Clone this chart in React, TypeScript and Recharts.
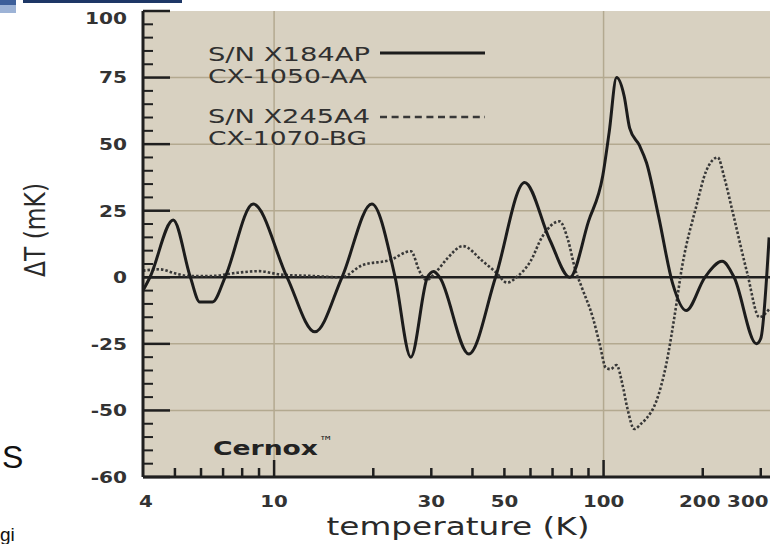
import React from 'react'
import { LineChart, Line, XAxis, YAxis, CartesianGrid, ReferenceLine } from 'recharts'

// S/N X184AP (CX-1050-AA), solid
const solidT = [4, 4.2, 4.94, 5.57, 5.95, 6.5, 7.1, 8.64, 10.95, 13.3, 16.07, 19.8, 23.3, 26, 29.2, 30.5, 31.8, 39, 47, 57.6, 68.7, 79, 90, 99.4, 104, 109.5, 115.5, 120, 128.5, 135, 147, 162, 178, 203, 229, 249, 291, 300, 318]
const solidV = [-5, 0, 21.5, 0, -9.3, -9.3, 0, 27.5, 0, -20.5, 0, 27.5, 0, -30, 0, 2.2, 0, -28.8, 0, 35.6, 14, 0, 21, 38, 54.5, 75, 68, 56, 49.5, 43, 22.7, -2.3, -12.5, 0, 6, 0, -25, -23, 15]

// S/N X245A4 (CX-1070-BG), dotted
const dottedT = [4, 4.5, 5, 5.5, 6.5, 7.5, 9, 10.5, 13, 16, 18.5, 22.5, 26, 27.7, 29, 31, 33.5, 37.4, 43, 47, 51, 55, 60, 65, 73.5, 78, 82, 86, 92.7, 97.3, 101.6, 105, 109.5, 114, 118, 124, 130, 135, 144.5, 155, 164, 173, 191, 205, 222, 233, 246, 273, 297, 318]
const dottedV = [2.5, 3, 1.5, 0.5, 0.5, 1.5, 2.3, 1, 0.5, 0, 4.5, 6.5, 9.8, 2, -1, 2, 7, 11.7, 6, 2, -2, 0.5, 6, 15, 21, 14, 3, -4, -15, -25, -34, -34.5, -33, -40, -49, -57, -55, -53, -46.6, -32.6, -15, 3.8, 26.5, 40, 45, 37, 25, 1.5, -15, -12]

const solidData = solidT.map((t, i) => ({ t, v: solidV[i] }))
const dottedData = dottedT.map((t, i) => ({ t, v: dottedV[i] }))

const xTicks = [4, 5, 6, 7, 8, 9, 10, 20, 30, 40, 50, 60, 70, 80, 90, 100, 200, 300]
const xMajor = [10, 100]
const xLabelValues = [4, 10, 30, 50, 100, 200, 300]
const xLabelText = ['4', '10', '30', '50', '100', '200', '300']

const yTicks = [-75, -70, -65, -60, -55, -50, -45, -40, -35, -30, -25, -20, -15, -10, -5, 0, 5, 10, 15, 20, 25, 30, 35, 40, 45, 50, 55, 60, 65, 70, 75, 80, 85, 90, 95, 100]
const yMajor = [100, 75, 50, 25, 0, -25, -50, -75]
const yLabelText = ['100', '75', '50', '25', '0', '-25', '-50', '-60']
const gridY = [75, 50, 25, -25, -50]
const gridX = [10, 100]

const INK = '#1f1f1f'
const LABEL = '#333'
const FONT = "'DejaVu Sans', Verdana, sans-serif"

// eslint-disable-next-line @typescript-eslint/no-explicit-any
const LeftTick = (props: any) => {
  const { x, y, payload } = props
  const idx = yMajor.indexOf(payload.value)
  const major = idx >= 0
  return (
    <g>
      <line x1={x} y1={y} x2={x + (major ? 27 : 10)} y2={y} stroke={INK} strokeWidth={major ? 2.5 : 2} />
      {major && (
        <text
          transform={`translate(${x - 16},${y + (payload.value === 100 ? 7 : 0)}) scale(1.22,1)`}
          textAnchor="end"
          dominantBaseline="central"
          fontFamily={FONT}
          fontWeight="bold"
          fontSize={16.5}
          fill={LABEL}
        >
          {yLabelText[idx]}
        </text>
      )}
    </g>
  )
}

// eslint-disable-next-line @typescript-eslint/no-explicit-any
const RightTick = (props: any) => {
  const { x, y, payload } = props
  const major = yMajor.includes(payload.value)
  return <line x1={x} y1={y} x2={x - (major ? 23 : 9)} y2={y} stroke={INK} strokeWidth={major ? 2.5 : 2} />
}

// eslint-disable-next-line @typescript-eslint/no-explicit-any
const BottomTick = (props: any) => {
  const { x, y, payload } = props
  const v = payload.value
  const idx = xLabelValues.indexOf(v)
  const len = v === 4 ? 0 : xMajor.includes(v) ? 17 : 9
  // the end labels are nudged to stay inside the frame
  const shift = v === 4 ? 3 : v === 300 ? -13 : v === 200 ? -3 : 0
  return (
    <g>
      {len > 0 && <line x1={x} y1={y} x2={x} y2={y - len} stroke={INK} strokeWidth={2.5} />}
      {idx >= 0 && (
        <text
          transform={`translate(${x + shift},${y + 24}) scale(1.2,1)`}
          textAnchor="middle"
          dominantBaseline="central"
          fontFamily={FONT}
          fontWeight="bold"
          fontSize={16.5}
          fill={LABEL}
        >
          {xLabelText[idx]}
        </text>
      )}
    </g>
  )
}

// eslint-disable-next-line @typescript-eslint/no-explicit-any
const TopTick = (props: any) => {
  const { x, y, payload } = props
  const v = payload.value
  const len = v === 4 ? 0 : xMajor.includes(v) ? 17 : 8
  return len > 0 ? <line x1={x} y1={y} x2={x} y2={y + len} stroke={INK} strokeWidth={2.5} /> : <g />
}

export default function App() {
  return (
    <div style={{ position: 'absolute', left: 0, top: 0, width: 774, height: 544, background: '#fff', overflow: 'hidden' }}>
      <LineChart width={774} height={544} margin={{ top: 11, right: 4, left: 0, bottom: 0 }}>
        <CartesianGrid fill="#d8d1c1" horizontal={false} vertical={false} xAxisId="bottom" yAxisId="left" />
        <XAxis
          xAxisId="bottom"
          dataKey="t"
          type="number"
          scale="log"
          domain={[4, 320]}
          allowDataOverflow
          ticks={xTicks}
          interval={0}
          height={67}
          tickSize={0}
          tickMargin={0}
          tick={<BottomTick />}
          axisLine={{ stroke: INK, strokeWidth: 3 }}
        />
        <XAxis
          xAxisId="top"
          orientation="top"
          dataKey="t"
          type="number"
          scale="log"
          domain={[4, 320]}
          allowDataOverflow
          ticks={xTicks}
          interval={0}
          height={0}
          tickSize={0}
          tickMargin={0}
          tick={<TopTick />}
          axisLine={{ stroke: INK, strokeWidth: 3 }}
        />
        <YAxis
          yAxisId="left"
          type="number"
          domain={[-75, 100]}
          allowDataOverflow
          ticks={yTicks}
          interval={0}
          width={143}
          tickSize={0}
          tickMargin={0}
          tick={<LeftTick />}
          axisLine={{ stroke: INK, strokeWidth: 3 }}
        />
        <YAxis
          yAxisId="right"
          orientation="right"
          type="number"
          domain={[-75, 100]}
          allowDataOverflow
          ticks={yTicks}
          interval={0}
          width={0}
          tickSize={0}
          tickMargin={0}
          tick={<RightTick />}
          axisLine={{ stroke: INK, strokeWidth: 3 }}
        />
        {gridY.map(v => (
          <ReferenceLine key={'gy' + v} y={v} xAxisId="bottom" yAxisId="left" stroke="#b3a990" strokeWidth={1.5} />
        ))}
        {gridX.map(v => (
          <ReferenceLine key={'gx' + v} x={v} xAxisId="bottom" yAxisId="left" stroke="#b3a990" strokeWidth={1.5} />
        ))}
        <ReferenceLine y={0} xAxisId="bottom" yAxisId="left" stroke={INK} strokeWidth={2.5} />
        {/* keeps the mirror axes tied to the same scales */}
        <Line data={solidData} xAxisId="top" yAxisId="right" dataKey="v" stroke="none" dot={false} isAnimationActive={false} />
        <Line
          data={dottedData}
          xAxisId="bottom"
          yAxisId="left"
          dataKey="v"
          type="monotone"
          stroke="#383838"
          strokeWidth={2.6}
          strokeDasharray="2.5 2"
          dot={false}
          isAnimationActive={false}
        />
        <Line
          data={solidData}
          xAxisId="bottom"
          yAxisId="left"
          dataKey="v"
          type="monotone"
          stroke="#1c1c1c"
          strokeWidth={3}
          dot={false}
          isAnimationActive={false}
        />
      </LineChart>

      <svg width={774} height={544} style={{ position: 'absolute', left: 0, top: 0, pointerEvents: 'none' }}>
        {/* page fragments around the cropped figure */}
        <rect x={0} y={0} width={16} height={13} fill="#9db3d6" />
        <rect x={0} y={0} width={16} height={5} fill="#3d5f9a" />
        <rect x={23} y={0} width={159} height={3} fill="#1e3766" />
        <text x={2} y={468} fontFamily="'Liberation Sans', Arial, sans-serif" fontSize={32} fill="#111">S</text>
        <text x={0} y={541} fontFamily="'Liberation Sans', Arial, sans-serif" fontSize={19} fill="#111">gi</text>

        <g fontFamily={FONT} fontSize={20} fill="#303030">
          <text x={208} y={61} textLength={162} lengthAdjust="spacingAndGlyphs">S/N X184AP</text>
          <text x={208} y={83} textLength={159} lengthAdjust="spacingAndGlyphs">CX-1050-AA</text>
          <text x={208} y={123} textLength={162} lengthAdjust="spacingAndGlyphs">S/N X245A4</text>
          <text x={208} y={145} textLength={159} lengthAdjust="spacingAndGlyphs">CX-1070-BG</text>
        </g>
        <line x1={380} y1={53} x2={485} y2={53} stroke="#1c1c1c" strokeWidth={3} />
        <line x1={380} y1={117} x2={485} y2={117} stroke="#383838" strokeWidth={2.6} strokeDasharray="7 4.6" />

        <text x={213} y={455} fontFamily={FONT} fontWeight="bold" fontSize={20} fill="#222" textLength={105} lengthAdjust="spacingAndGlyphs">Cernox</text>
        <text x={319} y={446} fontFamily={FONT} fontSize={14} fill="#222">™</text>

        <text
          transform="translate(45,230) scale(1.25,1) rotate(-90)"
          textAnchor="middle"
          fontFamily={FONT}
          fontSize={23}
          fill="#2a2a2a"
          textLength={94}
          lengthAdjust="spacingAndGlyphs"
        >
          ΔT (mK)
        </text>
        <text
          x={458}
          y={535}
          textAnchor="middle"
          fontFamily={FONT}
          fontSize={25}
          fill="#2a2a2a"
          textLength={263}
          lengthAdjust="spacingAndGlyphs"
        >
          temperature (K)
        </text>
      </svg>
    </div>
  )
}
